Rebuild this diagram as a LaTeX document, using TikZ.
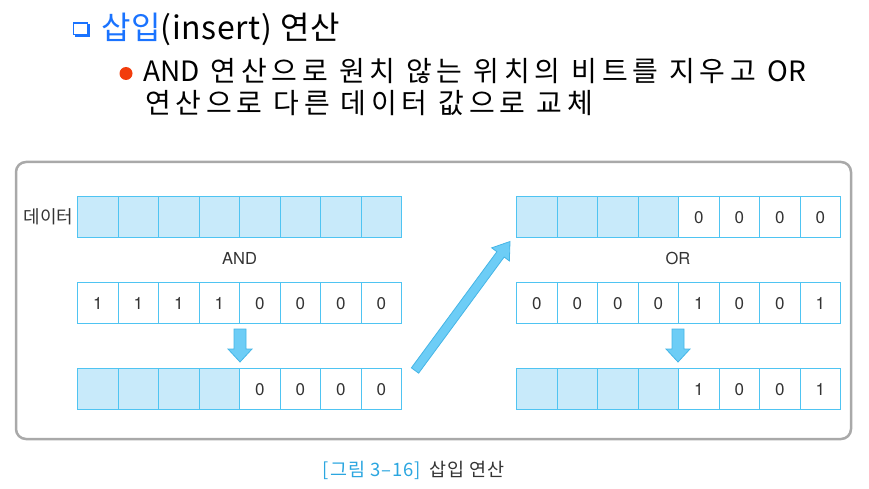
\documentclass[tikz,border=0pt]{standalone}
\usepackage{fontspec}
\setmainfont{Noto Sans CJK KR}
\newfontfamily\kr{Noto Sans CJK KR}
\newfontfamily\krsp[LetterSpace=17]{Noto Sans CJK KR}
\newfontfamily\krtitle[LetterSpace=2]{Noto Sans CJK KR}
\newfontfamily\krcap[LetterSpace=5]{Noto Sans CJK KR}
\newfontfamily\dig{TeX Gyre Heros}
\usetikzlibrary{calc}
\definecolor{cellfill}{HTML}{C8EAFA}
\definecolor{cellline}{HTML}{4FC4F2}
\definecolor{arrfill}{HTML}{6DCDF6}
\definecolor{arrline}{HTML}{45B5E6}
\definecolor{framec}{HTML}{A9A9A9}
\definecolor{titleblue}{HTML}{1A73FF}
\definecolor{dotred}{HTML}{F23C0C}
\definecolor{capblue}{HTML}{2BA6E0}
\definecolor{txtgray}{HTML}{333333}
\tikzset{
  cell/.style={draw=cellline, line width=1.2pt, minimum width=40.5pt, minimum height=41pt,
    inner sep=0pt, anchor=north west, font=\dig\fontsize{17}{17}\selectfont, text=txtgray},
  bluecell/.style={fill=cellfill},
  arrstyle/.style={fill=arrfill, draw=arrline, line width=0.8pt, line join=miter},
  oplabel/.style={font=\dig\fontsize{16.5}{16.5}\selectfont, text=txtgray, inner sep=0pt},
  textline/.style={anchor=base west, inner sep=0pt, text=black},
  downarr/.pic={\draw[arrstyle] (-6,0) -- (6,0) -- (6,20) -- (12,20) -- (0,33) -- (-12,20) -- (-6,20) -- cycle;}
}
\begin{document}
\begin{tikzpicture}[x=1pt,y=-1pt]
\useasboundingbox (0,0) rectangle (869,489);
% heading
\fill[titleblue] (74.5,24.5) rectangle (90,37);
\draw[titleblue, fill=white, line width=1.4pt] (73.2,23.2) rectangle (87.5,34.8);
\node[textline, font=\krtitle\fontsize{32}{32}\selectfont] (title) at (101,40)
  {\textcolor{titleblue}{삽입}(insert) 연산};
\fill[dotred] (126,73.5) circle (6.5);
\node[textline, font=\krsp\fontsize{28}{28}\selectfont] (line1) at (143,82)
  {{\kr AND} 연산으로 원치 않는 위치의 비트를 지우고 {\kr OR}};
\node[textline, font=\krsp\fontsize{28}{28}\selectfont] (line2) at (145,114)
  {연산으로 다른 데이터 값으로 교체};
% frame
\draw[framec, line width=2.5pt, rounded corners=10pt] (16,162) rectangle (851,439);
% left column
\foreach \i in {1,...,8}
  \node[cell, bluecell] (La\i) at ({77+(\i-1)*40.5},196) {};
\foreach \v [count=\i] in {1,1,1,1,0,0,0,0}
  \node[cell] (Lb\i) at ({77+(\i-1)*40.5},282) {\v};
\foreach \i in {1,...,4}
  \node[cell, bluecell] (Lc\i) at ({77+(\i-1)*40.5},368) {};
\foreach \v [count=\i from 5] in {0,0,0,0}
  \node[cell] (Lc\i) at ({77+(\i-1)*40.5},368) {\v};
\node[anchor=east, inner sep=0pt, font=\kr\fontsize{18}{18}\selectfont, text=txtgray] (data) at (73.5,216.5) {데이터};
\node[oplabel] (and) at (239.5,258) {AND};
\pic at (240,329) {downarr};
% right column
\foreach \i in {1,...,4}
  \node[cell, bluecell] (Ra\i) at ({516+(\i-1)*40.5},196) {};
\foreach \v [count=\i from 5] in {0,0,0,0}
  \node[cell] (Ra\i) at ({516+(\i-1)*40.5},196) {\v};
\foreach \v [count=\i] in {0,0,0,0,1,0,0,1}
  \node[cell] (Rb\i) at ({516+(\i-1)*40.5},282) {\v};
\foreach \i in {1,...,4}
  \node[cell, bluecell] (Rc\i) at ({516+(\i-1)*40.5},368) {};
\foreach \v [count=\i from 5] in {1,0,0,1}
  \node[cell] (Rc\i) at ({516+(\i-1)*40.5},368) {\v};
\node[oplabel] (or) at (678,258) {OR};
\pic at (678,329) {downarr};
% diagonal arrow
\coordinate (dt) at (415,370.5);
\coordinate (dp) at (510,241.5);
\coordinate (db) at ($(dp)!16pt!(dt)$);
\draw[arrstyle] ($(dt)!4.5pt!90:(dp)$) -- ($(db)!4.5pt!90:(dp)$) -- ($(db)!11pt!90:(dp)$)
  -- (dp) -- ($(db)!11pt!-90:(dp)$) -- ($(db)!4.5pt!-90:(dp)$) -- ($(dt)!4.5pt!-90:(dp)$) -- cycle;
% caption
\node[textline, font=\krcap\fontsize{18.5}{18.5}\selectfont] (cap) at (322.7,476)
  {\textcolor{capblue}{[그림 3–16]}\hspace{9pt}\textcolor{txtgray}{삽입 연산}};
\end{tikzpicture}
\end{document}
